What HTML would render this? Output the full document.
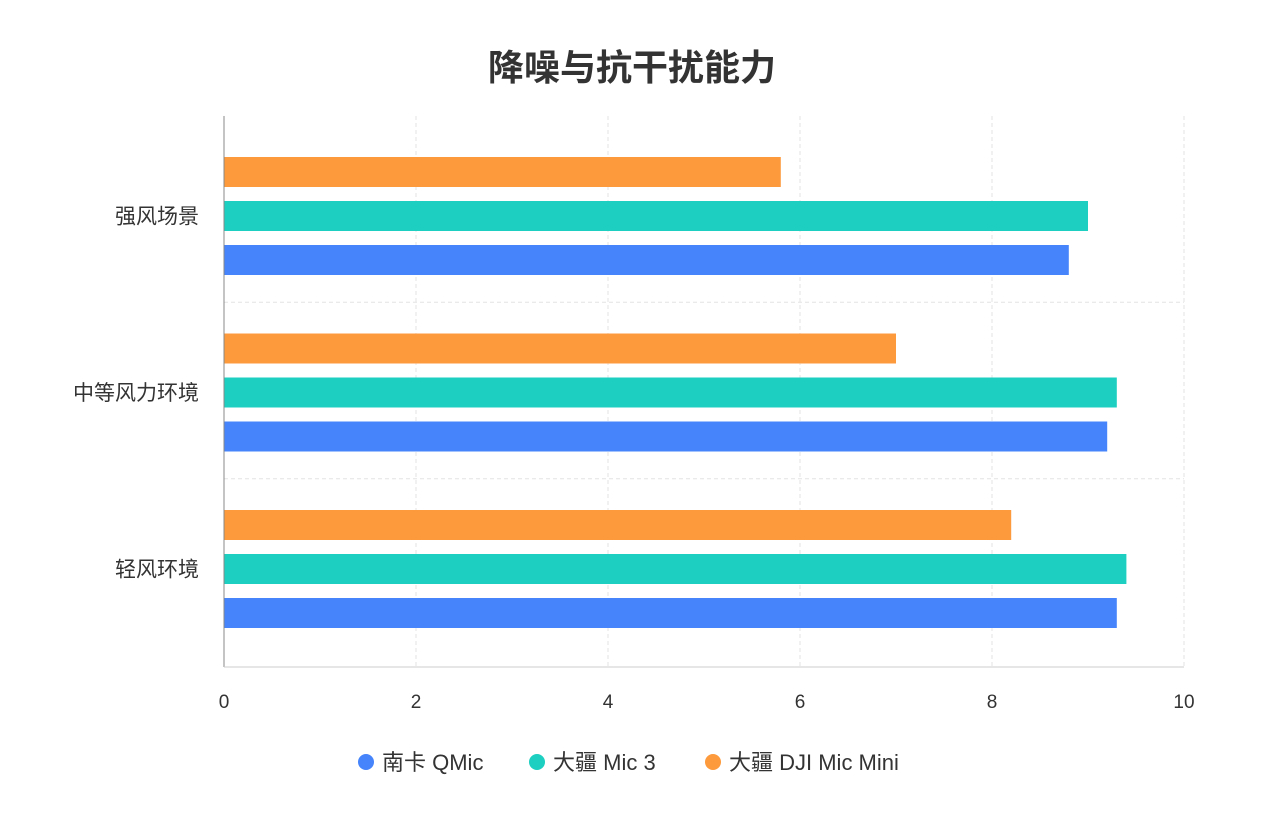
<!DOCTYPE html>
<html><head><meta charset="utf-8"><style>
html,body{margin:0;padding:0;background:#fff;}
body{width:1263px;height:824px;overflow:hidden;font-family:"Liberation Sans","Noto Sans CJK SC",sans-serif;}
</style></head><body>
<svg id="chart" width="1263" height="824" xmlns="http://www.w3.org/2000/svg" font-family="Liberation Sans, Noto Sans CJK SC, sans-serif">
<text x="632" y="80" text-anchor="middle" font-size="36" font-weight="bold" fill="#333">降噪与抗干扰能力</text>
<g id="grid"></g><g id="bars"></g><g id="axes"></g><g id="legend"></g>
</svg>
<script>
const categories = ["强风场景","中等风力环境","轻风环境"];
const seriesNames = ["大疆 DJI Mic Mini","大疆 Mic 3","南卡 QMic"];
const djiMini = [5.8,7.0,8.2];
const mic3 = [9.0,9.3,9.4];
const qmic = [8.8,9.2,9.3];
const xTicks = [0,2,4,6,8,10];
const legendNames = ["南卡 QMic","大疆 Mic 3","大疆 DJI Mic Mini"];

const NS="http://www.w3.org/2000/svg";
const L=224,R=1184,T=116,B=667;
const x=v=>L+(R-L)*v/10;
const groupStep=176.5, firstCenter=215.5;
const yc=i=>firstCenter+groupStep*i;
const colors={"大疆 DJI Mic Mini":"#fd9a3c","大疆 Mic 3":"#1ccfc0","南卡 QMic":"#4584fb"};
function mk(tag,attrs,parent){const e=document.createElementNS(NS,tag);for(const k in attrs)e.setAttribute(k,attrs[k]);parent.appendChild(e);return e;}
const grid=document.getElementById('grid'),bars=document.getElementById('bars'),axes=document.getElementById('axes'),legend=document.getElementById('legend');
xTicks.forEach(t=>{
  if(t>0){const g=mk('line',{x1:x(t),x2:x(t),y1:T,y2:B,stroke:'#e3e3e3','stroke-dasharray':'4,3'},grid);
  
  }
  const tl=mk('text',{x:x(t),y:708,'text-anchor':'middle','font-size':19,fill:'#333'},axes);tl.textContent=t;
  
  
});
for(let i=1;i<categories.length;i++){
  const gy=(yc(i-1)+yc(i))/2-1.5;
  const g=mk('line',{x1:L,x2:R,y1:gy,y2:gy,stroke:'#e3e3e3','stroke-dasharray':'4,3'},grid);
  
  
}
const seriesData=[djiMini,mic3,qmic];
categories.forEach((c,i)=>{
  const lab=mk('text',{x:199,y:yc(i)+8,'text-anchor':'end','font-size':21,fill:'#333'},axes);lab.textContent=c;
  
  
  seriesData.forEach((arr,s)=>{
    const y=yc(i)-58.5+s*44;
    const r=mk('rect',{x:L,y:y,width:x(arr[i])-L,height:30,fill:colors[seriesNames[s]]},bars);
    
    
  });
});
const ax=mk('line',{x1:L,x2:L,y1:T,y2:B,stroke:'#888'},axes);


const bx=mk('line',{x1:L,x2:R,y1:B,y2:B,stroke:'#ccc'},axes);


const lx=[366,537,713];
legendNames.forEach((n,i)=>{
  const g=mk('g',{},legend);
  
  
  mk('circle',{cx:lx[i],cy:762,r:8,fill:colors[n]},g);
  const t=mk('text',{x:lx[i]+16,y:770,'font-size':22,fill:'#333'},g);t.textContent=n;
});
</script>
</body></html>
